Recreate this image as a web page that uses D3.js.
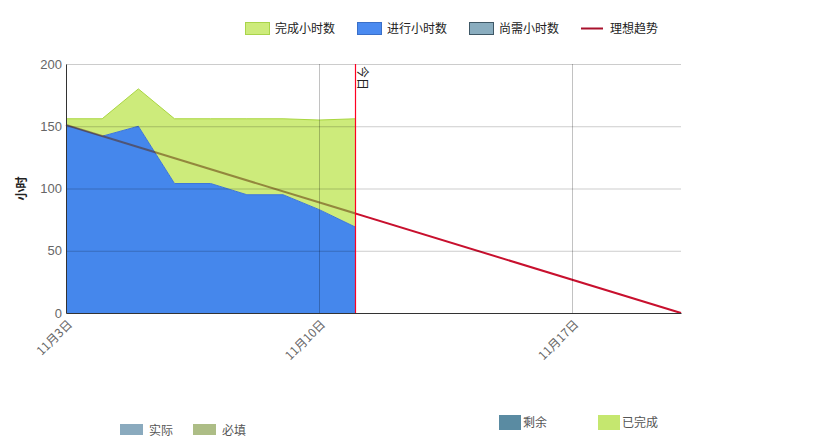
<!DOCTYPE html>
<html>
<head>
<meta charset="utf-8">
<script src="https://cdn.jsdelivr.net/npm/d3@7"></script>
<style>
  body { margin: 0; background: #fff; }
  text { font-family: "Noto Sans CJK SC", "Liberation Sans", sans-serif; }
</style>
</head>
<body>
<div id="chart"></div>
<script>
// data
const dates = ["2014-11-03", "2014-11-04", "2014-11-05", "2014-11-06", "2014-11-07",
               "2014-11-08", "2014-11-09", "2014-11-10", "2014-11-11"];
const inProgressHours = [151, 142, 150, 104, 104, 95, 95, 83, 69];
const doneHours = [5, 14, 30, 52, 52, 61, 61, 72, 87];
const idealStart = ["2014-11-03", 151];
const idealEnd = ["2014-11-20", 0];
const todayDate = "2014-11-11";
const yTicks = [0, 50, 100, 150, 200];
const xTicks = ["2014-11-03", "2014-11-10", "2014-11-17"];
const topLegend = [
  { label: "完成小时数", type: "rect", fill: "#cdeb7b", stroke: "#a9d44a" },
  { label: "进行小时数", type: "rect", fill: "#4a8af0", stroke: "#3a6fc8" },
  { label: "尚需小时数", type: "rect", fill: "#8aadbf", stroke: "#3f5866" },
  { label: "理想趋势", type: "line", stroke: "#a8112c" }
];
const bottomLeftLegend = [
  { label: "实际", fill: "#8aaabe" },
  { label: "必填", fill: "#adbd86" }
];
const bottomRightLegend = [
  { label: "剩余", fill: "#5a8ba2" },
  { label: "已完成", fill: "#c5e76f" }
];

const width = 817, height = 441;
const margin = { left: 66, right: 136, top: 64, bottom: 128 };
const parse = d3.timeParse("%Y-%m-%d");

const svg = d3.select("#chart").append("svg")
    .attr("width", width)
    .attr("height", height);

const x = d3.scaleTime()
    .domain([parse(idealStart[0]), parse(idealEnd[0])])
    .range([margin.left, width - margin.right]);
const y = d3.scaleLinear()
    .domain([0, 200])
    .range([height - margin.bottom, margin.top]);

// ideal trend
const idealPts = [[parse(idealStart[0]), idealStart[1]], [parse(idealEnd[0]), idealEnd[1]]];
const idealLine = d3.line().x(d => x(d[0])).y(d => y(d[1]));
svg.append("path")
    .attr("d", idealLine(idealPts))
    .attr("fill", "none")
    .attr("stroke", "#c8102e").attr("stroke-width", 2);

// stacked areas
const rows = dates.map((d, i) => ({ date: parse(d), progress: inProgressHours[i], done: doneHours[i] }));
const stack = d3.stack().keys(["progress", "done"])(rows);
const area = d3.area()
    .x(d => x(d.data.date))
    .y0(d => y(d[0]))
    .y1(d => y(d[1]));
const topLine = d3.line()
    .x(d => x(d.data.date))
    .y(d => y(d[1]));
const areaColors = { progress: ["#4587ec", "#3c74d8"], done: ["#cdeb7b", "#a9d640"] };
svg.append("g").selectAll("path").data(stack).join("path")
    .attr("d", area)
    .attr("fill", d => areaColors[d.key][0]);
svg.append("g").selectAll("path").data(stack).join("path")
    .attr("d", topLine)
    .attr("fill", "none")
    .attr("stroke", d => areaColors[d.key][1])
    .attr("stroke-width", 1);

// grid, drawn over the areas so it shows through
svg.append("g").selectAll("line").data(yTicks.slice(1)).join("line")
    .attr("x1", margin.left).attr("x2", width - margin.right)
    .attr("y1", d => y(d) + 0.5).attr("y2", d => y(d) + 0.5)
    .attr("stroke", "#000").attr("stroke-opacity", 0.2);
svg.append("g").selectAll("line").data(xTicks.slice(1)).join("line")
    .attr("x1", d => Math.round(x(parse(d))) + 0.5).attr("x2", d => Math.round(x(parse(d))) + 0.5)
    .attr("y1", margin.top).attr("y2", height - margin.bottom)
    .attr("stroke", "#000").attr("stroke-opacity", 0.24);

// trend seen through the areas
const tx = Math.round(x(parse(todayDate))) + 0.5;
svg.append("clipPath").attr("id", "past")
    .append("rect")
    .attr("x", margin.left).attr("y", margin.top)
    .attr("width", tx - margin.left).attr("height", height - margin.top - margin.bottom);
svg.append("path")
    .attr("d", idealLine(idealPts))
    .attr("clip-path", "url(#past)")
    .attr("fill", "none")
    .attr("stroke", "#5a2400").attr("stroke-opacity", 0.5).attr("stroke-width", 2);

// axes
const yAxis = svg.append("g")
    .attr("transform", `translate(${margin.left},0)`)
    .call(d3.axisLeft(y).tickValues(yTicks).tickSize(0).tickPadding(4));
yAxis.select(".domain").attr("stroke", "#333");
yAxis.selectAll("text").attr("fill", "#666").style("font-size", "13px")
    .style("font-family", "Liberation Sans, sans-serif");

const xAxis = svg.append("g")
    .attr("transform", `translate(0,${height - margin.bottom})`)
    .call(d3.axisBottom(x).tickValues(xTicks.map(parse)).tickSize(0)
        .tickFormat(d => `${d.getMonth() + 1}月${d.getDate()}日`));
xAxis.select(".domain").attr("stroke", "#333");
xAxis.selectAll("text")
    .attr("fill", "#666").style("font-size", "12px")
    .attr("text-anchor", "end")
    .attr("dx", "-4").attr("dy", "10")
    .attr("transform", "rotate(-45)");

// today marker
svg.append("line")
    .attr("x1", tx).attr("x2", tx)
    .attr("y1", margin.top).attr("y2", height - margin.bottom)
    .attr("stroke", "#ff0022").attr("stroke-width", 1.2);
svg.append("text")
    .attr("transform", `translate(${tx + 2},${margin.top + 2}) rotate(90)`)
    .attr("fill", "#222").style("font-size", "12px")
    .text("今日");

// y label
svg.append("text")
    .attr("transform", `translate(26,${(margin.top + height - margin.bottom) / 2}) rotate(-90)`)
    .attr("text-anchor", "middle")
    .style("font-size", "12px").style("font-weight", "bold").attr("fill", "#222")
    .text("小时");

// top legend
const legendX = [245, 357, 469, 581];
const lg = svg.append("g").selectAll("g").data(topLegend).join("g")
    .attr("transform", (d, i) => `translate(${legendX[i]},22)`);
lg.filter(d => d.type === "rect").append("rect")
    .attr("x", 0.5).attr("y", 0.5).attr("width", 24).attr("height", 12)
    .attr("fill", d => d.fill).attr("stroke", d => d.stroke);
lg.filter(d => d.type === "line").append("line")
    .attr("x1", 0).attr("x2", 22).attr("y1", 6.5).attr("y2", 6.5)
    .attr("stroke", d => d.stroke).attr("stroke-width", 2);
lg.append("text")
    .attr("x", (d) => d.type === "line" ? 29 : 30).attr("y", 11)
    .style("font-size", "12px").attr("fill", "#222")
    .text(d => d.label);

// bottom legends
const blX = [120, 193];
const bl = svg.append("g").selectAll("g").data(bottomLeftLegend).join("g")
    .attr("transform", (d, i) => `translate(${blX[i]},424)`);
bl.append("rect").attr("width", 23).attr("height", 11).attr("fill", d => d.fill);
bl.append("text").attr("x", 29).attr("y", 10.5)
    .style("font-size", "12px").attr("fill", "#555").text(d => d.label);

const brX = [499, 598];
const br = svg.append("g").selectAll("g").data(bottomRightLegend).join("g")
    .attr("transform", (d, i) => `translate(${brX[i]},415)`);
br.append("rect").attr("width", 22).attr("height", 15).attr("fill", d => d.fill);
br.append("text").attr("x", 24).attr("y", 12)
    .style("font-size", "12px").attr("fill", "#555").text(d => d.label);
</script>
</body>
</html>
